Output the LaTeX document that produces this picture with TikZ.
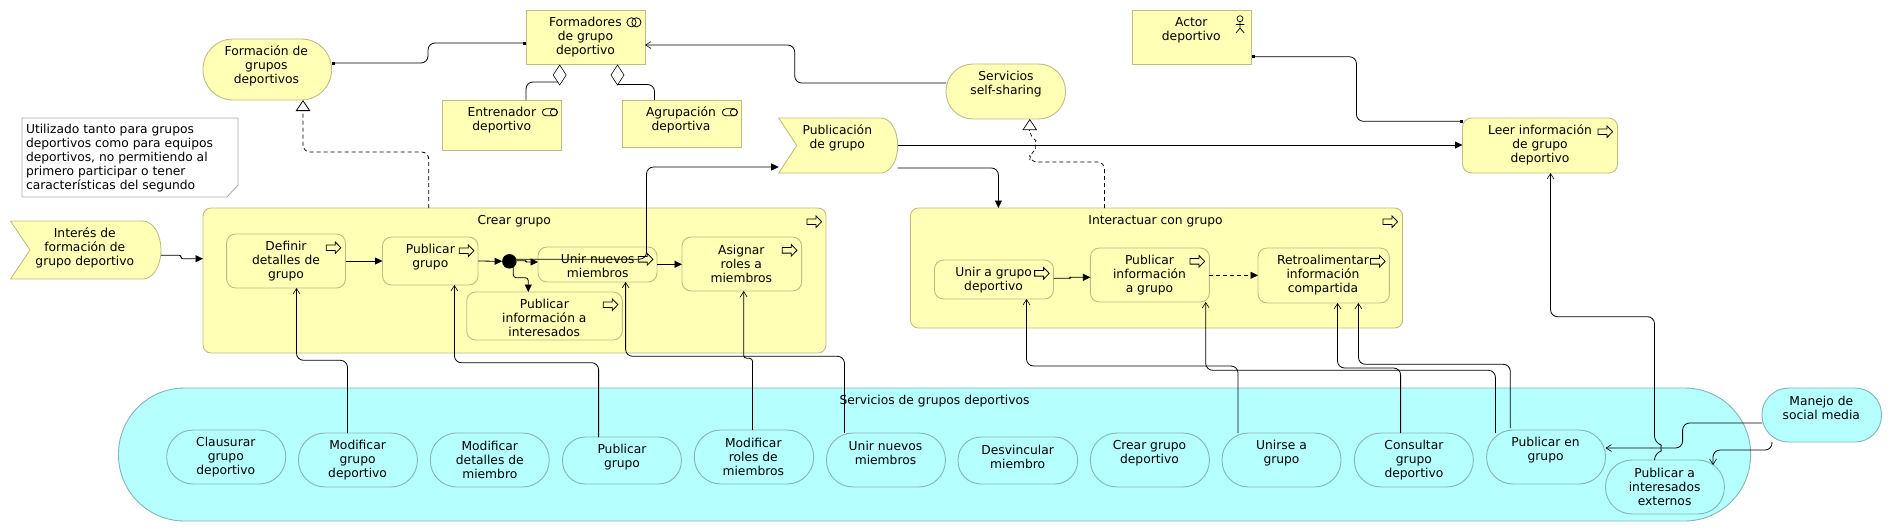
\documentclass[tikz,border=0pt]{standalone}
\usepackage{fontspec}
\setmainfont{DejaVu Sans}
\usetikzlibrary{arrows.meta,shapes.geometric,calc}
\definecolor{yfill}{HTML}{FFFFB5}
\definecolor{yline}{HTML}{BDBD85}
\definecolor{cfill}{HTML}{B5FFFF}
\definecolor{cline}{HTML}{85B5B5}
\definecolor{nline}{HTML}{ABABAB}
\tikzset{
  basebox/.style={inner sep=0pt,outer sep=0pt,line width=.9pt},
  ybox/.style={basebox,draw=yline,fill=yfill,rectangle},
  yround/.style={ybox,rounded corners=9pt},
  ybig/.style={ybox,rounded corners=8pt},
  ystad/.style={ybox,rounded corners=27pt},
  ystadb/.style={ybox,rounded corners=30pt},
  cstad/.style={basebox,draw=cline,fill=cfill,rectangle,rounded corners=26.5pt},
  cstadb/.style={basebox,draw=cline,fill=cfill,rectangle,rounded corners=23pt},
  cbig/.style={basebox,draw=cline,fill=cfill,rectangle,rounded corners=66pt},
  ghost/.style={inner sep=0pt,outer sep=0pt,rectangle},
  txt/.style={inner sep=0pt,outer sep=0pt,align=center,text=black,font=\fontsize{12.3}{14}\selectfont},
  conn/.style={line width=.8pt,rounded corners=7pt,black},
  flowc/.style={conn,-{Triangle[length=7.5pt,width=7pt]}},
  servc/.style={conn,-{Straight Barb[length=5.5pt,width=7pt,line width=.6pt]}},
  assg/.style={conn,{Square[length=3pt,width=3pt]}-{Square[length=3pt,width=3pt]}},
  realc/.style={conn,dashed,dash pattern=on 4pt off 3pt,-{Triangle[open,length=11pt,width=14.5pt,fill=white]}},
  icon/.style={line width=.8pt,black},
  aggd/.style={diamond,draw=black,fill=white,line width=.6pt,inner sep=0pt,outer sep=0pt,minimum width=13pt,minimum height=20pt},
}
\newcommand{\shp}[9]{%
  \pgfmathsetmacro{\tw}{#5-#3}\pgfmathsetmacro{\th}{#6-#4}%
  \pgfmathsetmacro{\mx}{(#5+#3)/2}\pgfmathsetmacro{\my}{(#6+#4)/2}%
  \node[#1,minimum width=\tw pt,minimum height=\th pt] (#2) at (\mx,\my) {};%
  \node[txt,yshift=-1.6pt] (#2-t) at (#7,#8) {#9};%
}
\newcommand{\proc}[2]{%
  \draw[icon,fill=yfill,line join=miter] (#1,#2) ++(0,-2.8) -- ++(9,0) -- ++(0,-3) -- ++(5.6,5.8) -- ++(-5.6,5.8) -- ++(0,-3) -- ++(-9,0) -- cycle;%
}
\newcommand{\roleicon}[2]{%
  \draw[icon,rounded corners=3.4pt] (#1,#2) ++(0,-3.5) rectangle ++(15,7);%
  \draw[icon] (#1,#2) ++(11.4,0) circle[radius=3.5pt];%
}
\begin{document}
\begin{tikzpicture}[x=1pt,y=-1pt]
\useasboundingbox (0,0) rectangle (1892,531);
% business layer: top row
\shp{ystadb}{form}{203}{39}{331.5}{100}{266.4}{64.7}{Formación de\\grupos\\deportivos}
\shp{ybox}{fmd}{526}{10}{645}{64}{585.4}{35.7}{Formadores\\de grupo\\deportivo}
\draw[icon] (631.5,22.3) circle[radius=4.6pt] (636.4,22.3) circle[radius=4.6pt];
\shp{ybox}{entr}{442}{100}{561}{150}{501.8}{118.7}{Entrenador\\deportivo}
\roleicon{542.4}{112.3}
\shp{ybox}{agru}{622}{100}{741}{147}{681}{118.7}{Agrupación\\deportiva}
\roleicon{722.4}{112.3}
\shp{ystad}{serv}{946}{64}{1065.5}{119}{1006}{82.7}{Servicios\\self-sharing}
\shp{ybox}{actor}{1132}{10}{1251.5}{64}{1191.3}{28.7}{Actor\\deportivo}
\draw[icon,line width=.7pt] (1240,18.7) circle[radius=3pt] (1240,21.7) -- (1240,28) (1235.8,24.5) -- (1244.4,24.5) (1236,33) -- (1240,28) -- (1244.2,33);
\shp{yround}{leer}{1462.5}{118}{1617.6}{173}{1540}{143.7}{Leer información\\de grupo\\deportivo}
\proc{1598}{131.7}
% note
\node[ghost,minimum width=216pt,minimum height=79pt] (note) at (130,157.5) {};
\draw[draw=nline,fill=white,line width=.9pt] (note.north west) -- (note.north east) -- ([yshift=12pt]note.south east) -- ([xshift=-11pt]note.south east) -- (note.south west) -- cycle;
\node[txt,align=left,anchor=west,yshift=-1.6pt] (note-t) at (26,156.7) {Utilizado tanto para grupos\\deportivos como para equipos\\deportivos, no permitiendo al\\primero participar o tener\\características del segundo};
% events
\node[ghost,minimum width=150.5pt,minimum height=58pt] (inte) at (85.75,250) {};
\draw[draw=yline,fill=yfill,line width=.9pt] (inte.north west) -- (143,221) .. controls (153,221) and (161,234) .. (161,250) .. controls (161,266) and (153,279) .. (143,279) -- (inte.south west) -- (30,250) -- cycle;
\node[txt,yshift=-1.6pt] (inte-t) at (84.8,246.7) {Interés de\\formación de\\grupo deportivo};
\node[ghost,minimum width=119pt,minimum height=55pt] (pubc) at (838.2,145.5) {};
\draw[draw=yline,fill=yfill,line width=.9pt] (pubc.north west) -- (881,118) .. controls (890,118) and (897.7,130) .. (897.7,145.5) .. controls (897.7,161) and (890,173) .. (881,173) -- (pubc.south west) -- (796.7,145.5) -- cycle;
\node[txt,yshift=-1.6pt] (pubc-t) at (837.3,136.3) {Publicación\\de grupo};
% Crear grupo
\shp{ybig}{crear}{203}{208}{826}{353}{514.3}{219.7}{Crear grupo}
\proc{807}{221.7}
\shp{yround}{defi}{226.6}{234}{345.5}{288}{286}{259.7}{Definir\\detalles de\\grupo}
\proc{326.2}{247.7}
\shp{yround}{pubg}{382.5}{237}{478}{285}{430.3}{255.7}{Publicar\\grupo}
\proc{459.3}{250.7}
\shp{yround}{unir}{538}{247}{657}{282}{597.7}{264.7}{Unir nuevos\\miembros}
\proc{638.3}{259.3}
\shp{yround}{pinf}{466.7}{292}{622.3}{340}{544.3}{316.7}{Publicar\\información a\\interesados}
\proc{603.3}{304.7}
\shp{yround}{asig}{682}{237}{801.6}{291}{741.3}{262.7}{Asignar\\roles a\\miembros}
\proc{782.3}{250.3}
\node[circle,fill=black,inner sep=0pt,outer sep=0pt,minimum size=14.5pt] (junc) at (509.4,261.3) {};
% Interactuar
\shp{ybig}{inter}{910.4}{208}{1402.6}{328}{1155.5}{219.7}{Interactuar con grupo}
\proc{1383}{221.7}
\shp{yround}{unga}{934.5}{260}{1053.5}{299}{993.6}{278.7}{Unir a grupo\\deportivo}
\proc{1034.6}{273.3}
\shp{yround}{piag}{1090.4}{248}{1209.4}{302}{1149.5}{273.7}{Publicar\\información\\a grupo}
\proc{1190}{261.3}
\shp{yround}{retr}{1258}{248}{1389.4}{303}{1323}{273.7}{Retroalimentar\\información\\compartida}
\proc{1370.5}{261.3}
% Services
\shp{cbig}{sgd}{118.5}{388}{1750.6}{521}{934.5}{399.3}{Servicios de grupos deportivos}
\shp{cstad}{s1}{166.7}{430}{285.7}{484}{225.8}{455.7}{Clausurar\\grupo\\deportivo}
\shp{cstad}{s2}{298.5}{433}{417.4}{487}{357.6}{458.7}{Modificar\\grupo\\deportivo}
\shp{cstad}{s3}{430.3}{433}{549.2}{487}{489.8}{458.7}{Modificar\\detalles de\\miembro}
\shp{cstadb}{s4}{562.5}{437}{681.4}{484}{622}{455.3}{Publicar\\grupo}
\shp{cstad}{s5}{694.3}{430}{813.6}{484}{753.3}{455.7}{Modificar\\roles de\\miembros}
\shp{cstad}{s6}{826.5}{433}{945.4}{487}{885.5}{451.7}{Unir nuevos\\miembros}
\shp{cstadb}{s7}{958}{437}{1077.6}{484}{1017.7}{455.7}{Desvincular\\miembro}
\shp{cstad}{s8}{1090.4}{433}{1209.4}{487}{1149.5}{451.7}{Crear grupo\\deportivo}
\shp{cstad}{s9}{1222}{433}{1341}{487}{1281.5}{451.7}{Unirse a\\grupo}
\shp{cstad}{s10}{1354.4}{433}{1473.3}{487}{1413.9}{458.7}{Consultar\\grupo\\deportivo}
\shp{cstad}{s11}{1486.6}{430}{1605.5}{484}{1545.6}{448.7}{Publicar en\\grupo}
\shp{cstad}{s12}{1605.5}{460}{1724.4}{514}{1664.6}{485.7}{Publicar a\\interesados\\externos}
\shp{cstad}{mane}{1762}{388}{1881.5}{442}{1821.3}{406.3}{Manejo de\\social media}
% connectors
\draw[assg] (form.east |- 0,63) -- (428,63) -- (428,43) -- (fmd.west |- 0,43);
\draw[conn] (526,0 |- entr.north) -- (526,82) -- (559.7,82);
\draw[conn] (654.5,0 |- agru.north) -- (654.5,84.5) -- (617.5,84.5);
\node[aggd] (dia1) at (559.7,75) {};
\node[aggd] (dia2) at (617.5,75) {};
\draw[servc] (serv.west |- 0,83) -- (794.7,83) -- (794.7,45) -- (fmd.east |- 0,45);
\draw[flowc] (pubc.east |- 0,145) -- (leer.west |- 0,145);
\draw[flowc] (pubc.east |- 0,168) -- (998.4,168) -- (998.4,0 |- inter.north);
\draw[flowc] (junc.center |- 0,259.2) -- (646.5,259.2) -- (646.5,167) -- (pubc.west |- 0,167);
\draw[realc] (428.7,0 |- crear.north) -- (428.7,152) -- (303,152) -- (303,0 |- form.south);
\draw[conn,dashed,dash pattern=on 4pt off 3pt,line width=.7pt] (1104.5,0 |- inter.north) -- (1104.5,162) -- (1030,162) .. controls (1029.8,158) and (1029.8,156) .. (1029.8,153) .. controls (1035,150) and (1035,140) .. (1029.8,137) -- (1029.8,130);
\draw[realc,line width=.7pt] (1029.8,130.2) -- (1029.8,0 |- serv.south);
\draw[assg] (actor.east |- 0,56.7) -- (1356.4,56.7) -- (1356.4,121.3) -- (leer.west |- 0,121.3);
\draw[servc] (1654.5,0 |- s12.north) -- (1654.5,453) .. controls (1661,451) and (1661,445) .. (1654.5,443) -- (1654.5,316.7) -- (1550.5,316.7) -- (1550.5,0 |- leer.south);
\draw[servc] (mane.west |- 0,423) -- (1682.6,423) -- (1682.6,448) -- (s11.east |- 0,448);
\draw[servc] (1772,0 |- mane.south) -- (1772,450) -- (1713,450) -- (1713,465);
\draw[flowc,rounded corners=2pt] (inte.east |- 0,255.3) -- (181,255.3) -- (181,258.7) -- (crear.west |- 0,258.7);
\draw[flowc] (defi.east |- 0,261) -- (pubg.west |- 0,261);
\draw[flowc] (pubg.east |- 0,261) -- (junc.west);
\draw[flowc,rounded corners=1pt] (junc.east |- 0,260.7) -- (526,260.7) -- (526,262) -- (unir.west |- 0,262);
\draw[flowc,rounded corners=3pt] (513.3,267) -- (513.3,277.7) -- (528.3,277.7) -- (528.3,0 |- pinf.north);
\draw[flowc] (unir.east |- 0,264.3) -- (asig.west |- 0,264.3);
\draw[flowc,rounded corners=1pt] (unga.east |- 0,278.3) -- (1070,278.3) -- (1070,277.3) -- (piag.west |- 0,277.3);
\draw[flowc,dashed,dash pattern=on 4pt off 3pt] (piag.east |- 0,275.3) -- (retr.west |- 0,275.3);
\draw[servc] (347.5,0 |- s2.north) -- (347.5,360.3) -- (296.5,360.3) -- (296.5,0 |- defi.south);
\draw[servc] (598.6,0 |- s4.north) -- (598.6,362.7) -- (454.4,362.7) -- (454.4,0 |- pubg.south);
\draw[servc] (844.5,0 |- s6.north) -- (844.5,356.3) -- (625.6,356.3) -- (625.6,0 |- unir.south);
\draw[servc,rounded corners=3pt] (752.5,0 |- s5.north) -- (752.5,358.3) -- (743.7,358.3) -- (743.7,0 |- asig.south);
\draw[servc] (1238,0 |- s9.north) -- (1238,366) -- (1026.5,366) -- (1026.5,0 |- unga.south);
\draw[servc] (1495.4,433) -- (1495.4,370.3) -- (1205.7,370.3) -- (1205.7,0 |- piag.south);
\draw[servc] (1400.6,0 |- s10.north) -- (1400.6,368) -- (1337.5,368) -- (1337.5,0 |- retr.south);
\draw[servc] (1510.3,428) -- (1510.3,364.3) -- (1358.4,364.3) -- (1358.4,0 |- retr.south);
\end{tikzpicture}
\end{document}
